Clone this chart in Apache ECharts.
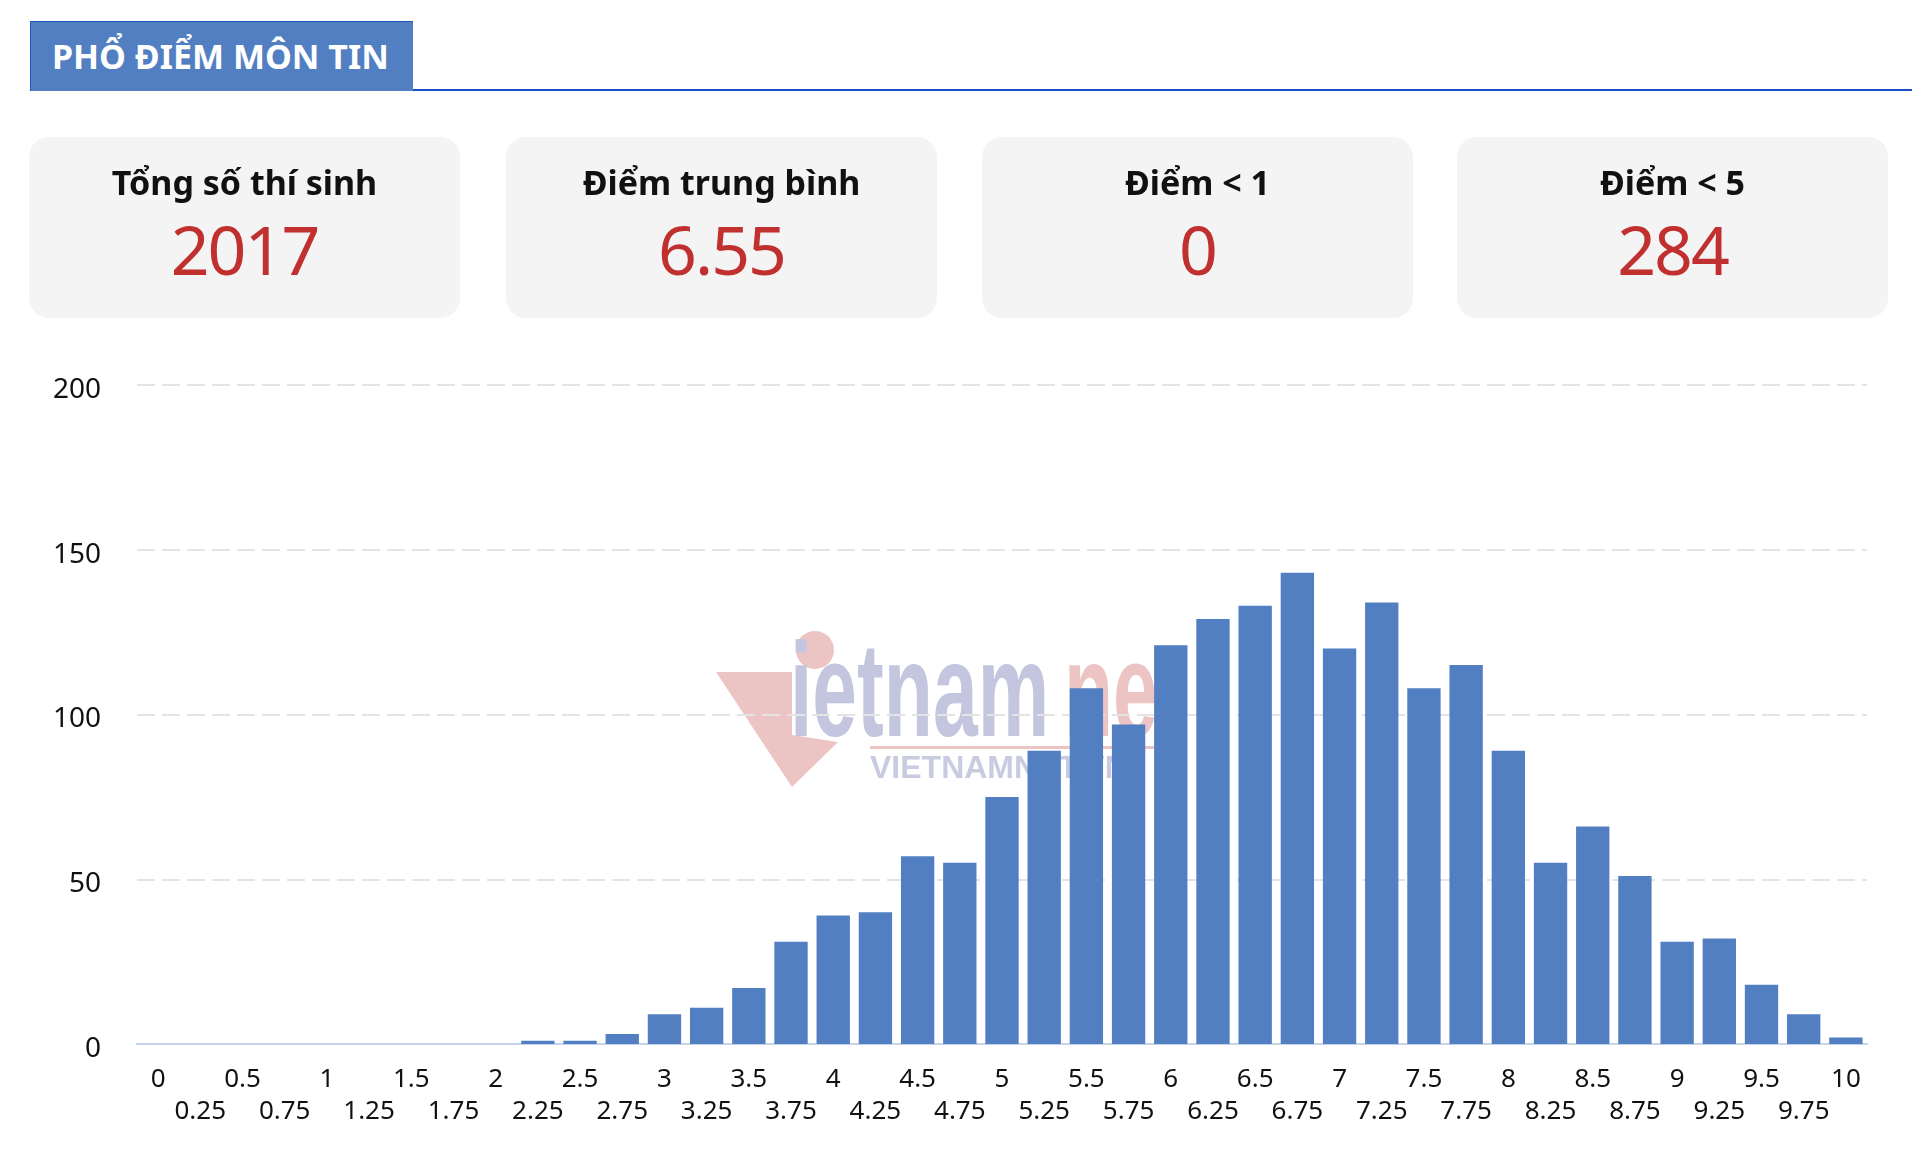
<!DOCTYPE html>
<html>
<head>
<meta charset="utf-8">
<script src="https://cdn.jsdelivr.net/npm/echarts@6/dist/echarts.min.js"></script>
<style>
  html, body { margin: 0; padding: 0; background: #fff; }
  body { width: 1912px; height: 1155px; position: relative; overflow: hidden; font-family: "Noto Sans", "Open Sans", sans-serif; }
  #chart { position: absolute; left: 0; top: 0; width: 1912px; height: 1155px; }
  .rule { position: absolute; left: 30px; top: 89px; width: 1882px; height: 2px; background: #1b50c8; }
  .title { position: absolute; left: 30px; top: 21px; width: 383px; height: 70px; box-sizing: border-box;
    background: #527ec2; border-top: 1px solid #1f56c0; border-left: 1px solid #1f56c0;
    color: #fff; font-weight: 700; font-size: 34px; line-height: 68px; padding-left: 21px; white-space: nowrap; }
  .card { position: absolute; top: 137px; width: 431px; height: 181px; background: #f4f4f4; border-radius: 20px; }
  .card .lbl { position: absolute; left: 0; right: 0; top: 25px; text-align: center;
    font-weight: 700; font-size: 34px; line-height: 40px; color: #111; white-space: nowrap; }
  .card .val { position: absolute; left: 0; right: 0; top: 72px; text-align: center;
    font-size: 68px; line-height: 80px; color: #c0302e; letter-spacing: -2px; }
</style>
</head>
<body>
<div id="chart"></div>
<div class="rule"></div>
<div class="title">PHỔ ĐIỂM MÔN TIN</div>
<div id="cards"></div>
<script>
// thẻ thống kê
const statLabels = ['Tổng số thí sinh', 'Điểm trung bình', 'Điểm < 1', 'Điểm < 5'];
const statValues = ['2017', '6.55', '0', '284'];

// phổ điểm
const scores = ['0', '0.25', '0.5', '0.75', '1', '1.25', '1.5', '1.75', '2', '2.25',
  '2.5', '2.75', '3', '3.25', '3.5', '3.75', '4', '4.25', '4.5', '4.75',
  '5', '5.25', '5.5', '5.75', '6', '6.25', '6.5', '6.75', '7', '7.25',
  '7.5', '7.75', '8', '8.25', '8.5', '8.75', '9', '9.25', '9.5', '9.75', '10'];
const counts = [0, 0, 0, 0, 0, 0, 0, 0, 0, 1,
  1, 3, 9, 11, 17, 31, 39, 40, 57, 55,
  75, 89, 108, 97, 121, 129, 133, 143, 120, 134,
  108, 115, 89, 55, 66, 51, 31, 32, 18, 9, 2];
const yTicks = { min: 0, max: 200, interval: 50 };

const cardLeft = [29, 506, 982, 1457];
const cards = document.getElementById('cards');
statLabels.forEach((t, i) => {
  const c = document.createElement('div');
  c.className = 'card';
  c.style.left = cardLeft[i] + 'px';
  const l = document.createElement('div');
  l.className = 'lbl';
  l.textContent = t;
  const v = document.createElement('div');
  v.className = 'val';
  v.textContent = statValues[i];
  c.appendChild(l);
  c.appendChild(v);
  cards.appendChild(c);
});

const chart = echarts.init(document.getElementById('chart'));

chart.setOption({
  animation: false,
  textStyle: { fontFamily: 'Noto Sans' },
  grid: { left: 137, right: 45, top: 385, bottom: 111, containLabel: false },
  // logo chìm
  graphic: [
    { type: 'polygon', z: -1, shape: { points: [[716, 672], [792, 672], [792, 735], [838, 742], [792, 787]] },
      style: { fill: '#ecc4c4' } },
    { type: 'circle', z: -1, shape: { cx: 815, cy: 650, r: 19 }, style: { fill: '#ecc4c4' } },
    { type: 'text', z: -1, x: 790, y: 766, scaleX: 0.6,
      style: { text: 'ietnam', font: 'bold 134px "Liberation Sans Narrow", "Liberation Sans"', fill: '#c3c6de', verticalAlign: 'bottom' } },
    { type: 'text', z: -1, x: 1064, y: 766, scaleX: 0.6,
      style: { text: 'net', font: 'bold 134px "Liberation Sans Narrow", "Liberation Sans"', fill: '#ecc4c4', verticalAlign: 'bottom' } },
    { type: 'rect', z: -1, shape: { x: 870, y: 746, width: 300, height: 3 }, style: { fill: '#ecc4c4' } },
    { type: 'text', z: -1, x: 870, y: 753,
      style: { text: 'VIETNAMNET.VN', font: 'bold 32px "Liberation Sans"', fill: '#c9cce0', verticalAlign: 'top' } }
  ],
  xAxis: {
    type: 'category',
    data: scores,
    axisLine: { lineStyle: { color: '#c6d3ea', width: 2 } },
    axisTick: { show: false },
    axisLabel: {
      interval: 0,
      margin: 20,
      fontSize: 26,
      lineHeight: 32,
      color: '#111',
      formatter: (v, i) => (i % 2 ? '\n' + v : v)
    }
  },
  yAxis: {
    type: 'value',
    min: yTicks.min,
    max: yTicks.max,
    interval: yTicks.interval,
    axisLine: { show: false },
    axisTick: { show: false },
    axisLabel: { fontSize: 28, color: '#111', margin: 36, verticalAlign: 'top', lineHeight: 10 },
    splitLine: { lineStyle: { color: '#e4e4e4', width: 2, type: [18, 7] } }
  },
  series: [{
    type: 'bar',
    data: counts,
    barCategoryGap: '21%',
    itemStyle: { color: '#527ec2' }
  }]
});
</script>
</body>
</html>
